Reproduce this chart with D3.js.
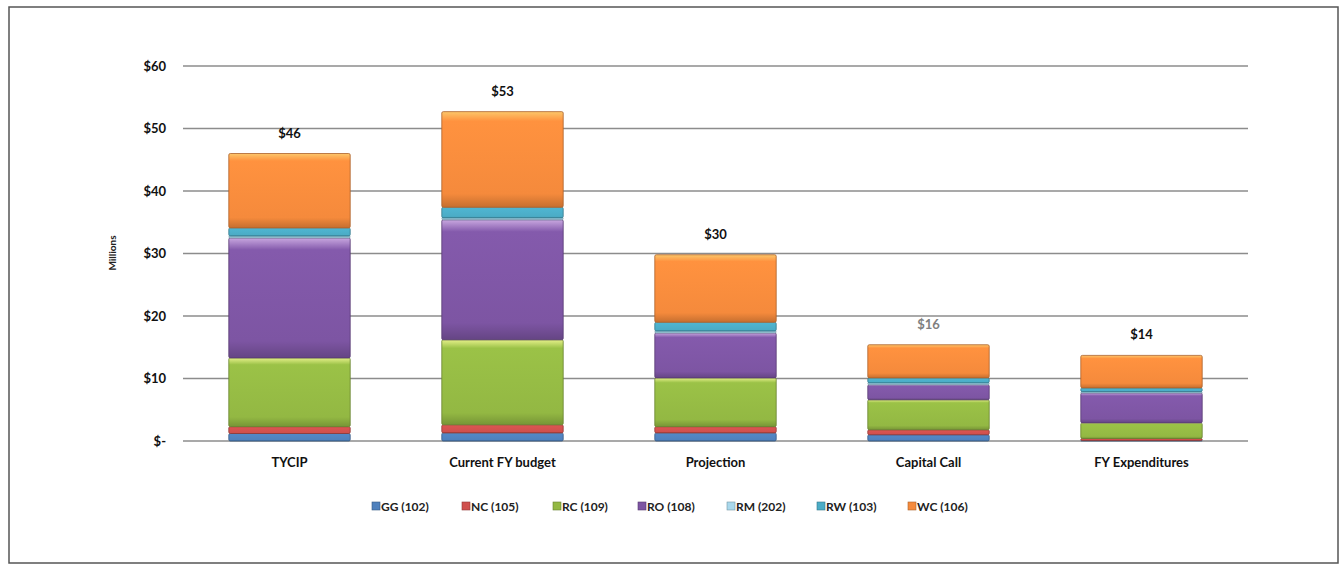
<!DOCTYPE html>
<html><head><meta charset="utf-8">
<script src="https://cdn.jsdelivr.net/npm/d3@7"></script>
<style>
html,body{margin:0;padding:0;background:#fff;}
svg{display:block;font-family:Lato,"Open Sans",sans-serif;}
</style></head>
<body>
<svg id="chart" width="1341" height="568"></svg>
<script>
const categories = ["TYCIP", "Current FY budget", "Projection", "Capital Call", "FY Expenditures"];
const seriesNames = ["GG (102)", "NC (105)", "RC (109)", "RO (108)", "RM (202)", "RW (103)", "WC (106)"];
const GG = [1.2, 1.3, 1.3, 1.0, 0.1];
const NC = [1.1, 1.3, 1.0, 0.8, 0.3];
const RC = [11.0, 13.6, 7.8, 4.8, 2.5];
const RO = [19.2, 19.2, 7.2, 2.4, 4.8];
const RM = [0.3, 0.3, 0.3, 0.3, 0.2];
const RW = [1.3, 1.7, 1.4, 0.8, 0.6];
const WC = [11.9, 15.3, 10.8, 5.3, 5.2];
const totalLabels = ["$46", "$53", "$30", "$16", "$14"];
const yTicks = [0, 10, 20, 30, 40, 50, 60];
const yTickLabels = ["$-", "$10", "$20", "$30", "$40", "$50", "$60"];

const seriesValues = [GG, NC, RC, RO, RM, RW, WC];
const colors = ["#4f81bd", "#d0504d", "#93b843", "#7d55a3", "#a9d8ec", "#4bacc6", "#f58a3c"];
const highlights = ["#9fbde3", "#f0a0a0", "#e6f08a", "#c9a8e0", "#dff2fa", "#a8dcea", "#fcc76a"];

const svg = d3.select("#chart");
const defs = svg.append("defs");
colors.forEach((c, i) => {
  const g = defs.append("linearGradient").attr("id", "g" + i).attr("x1", 0).attr("y1", 0).attr("x2", 0).attr("y2", 1);
  const base = d3.color(c);
  g.append("stop").attr("offset", "0%").attr("stop-color", highlights[i]);
  g.append("stop").attr("offset", "10%").attr("stop-color", base.brighter(0.15));
  g.append("stop").attr("offset", "86%").attr("stop-color", base);
  g.append("stop").attr("offset", "100%").attr("stop-color", base.darker(0.6));
});

// frame
svg.append("rect").attr("x", 9).attr("y", 7).attr("width", 1329).attr("height", 556)
  .attr("fill", "#fff").attr("stroke", "#555").attr("stroke-width", 1.5);

const margin = {left: 183, right: 1248, top: 66, bottom: 441};
const x = d3.scaleBand().domain(categories).range([margin.left, margin.right]).paddingInner(0.43).paddingOuter(0.215);
const y = d3.scaleLinear().domain([0, 60]).range([margin.bottom, margin.top]);

// gridlines
svg.append("g").selectAll("line").data(yTicks).join("line")
  .attr("x1", margin.left).attr("x2", margin.right)
  .attr("y1", d => y(d)).attr("y2", d => y(d))
  .attr("stroke", "#8c8c8c").attr("stroke-width", 1.6);

// y axis labels
const yAxis = d3.axisLeft(y).tickValues(yTicks).tickSize(0).tickPadding(0)
  .tickFormat((d, i) => yTickLabels[i]);
const yg = svg.append("g").attr("transform", `translate(${margin.left - 17},0)`).call(yAxis);
yg.select(".domain").remove();
yg.selectAll("text").attr("font-size", 13).attr("font-weight", "bold").attr("fill", "#111")
  .attr("font-family", "Lato, sans-serif");

svg.append("text").attr("transform", `translate(116,253) rotate(-90)`)
  .attr("text-anchor", "middle").attr("font-size", 10).attr("font-weight", "bold").attr("fill", "#222")
  .text("Millions");

// stack
const rows = categories.map((c, i) => {
  const o = {cat: c};
  seriesNames.forEach((s, j) => o[s] = seriesValues[j][i]);
  return o;
});
const stack = d3.stack().keys(seriesNames)(rows);

const layers = svg.append("g").selectAll("g").data(stack).join("g")
  .attr("fill", (d, i) => `url(#g${i})`)
  .attr("stroke", (d, i) => d3.color(colors[i]).darker(1))
  .attr("stroke-width", 0.8);
layers.selectAll("rect").data(d => d).join("rect")
  .attr("x", d => x(d.data.cat))
  .attr("width", x.bandwidth())
  .attr("y", d => y(d[1]))
  .attr("height", d => Math.max(0, y(d[0]) - y(d[1])))
  .attr("rx", 1.5);

// total labels
const totals = categories.map((c, i) => seriesValues.reduce((s, arr) => s + arr[i], 0));
svg.append("g").selectAll("text").data(categories).join("text")
  .attr("x", d => x(d) + x.bandwidth() / 2)
  .attr("y", (d, i) => y(totals[i]) - 16)
  .attr("text-anchor", "middle").attr("font-size", 13).attr("font-weight", "bold")
  .attr("fill", (d, i) => i === 3 ? "#808080" : "#111")
  .text((d, i) => totalLabels[i]);

// x axis labels
const xAxis = d3.axisBottom(x).tickSize(0).tickPadding(0);
const xg = svg.append("g").attr("transform", `translate(0,${margin.bottom + 26})`).call(xAxis);
xg.select(".domain").remove();
xg.selectAll("text").attr("font-size", 13).attr("font-weight", "bold").attr("fill", "#111")
  .attr("font-family", "Lato, sans-serif").attr("dy", 0);

// legend
const legendX = [372, 462, 553, 638, 727, 817, 908];
const lg = svg.append("g").selectAll("g").data(seriesNames).join("g")
  .attr("transform", (d, i) => `translate(${legendX[i]},507)`);
lg.append("rect").attr("x", 0).attr("y", -5).attr("width", 8).attr("height", 8)
  .attr("fill", (d, i) => colors[i]).attr("stroke", (d, i) => d3.color(colors[i]).darker(1)).attr("stroke-width", 0.6);
lg.append("text").attr("x", 9).attr("y", 4).attr("font-size", 12).attr("font-weight", "bold").attr("fill", "#222")
  .text(d => d);
</script>
</body></html>
